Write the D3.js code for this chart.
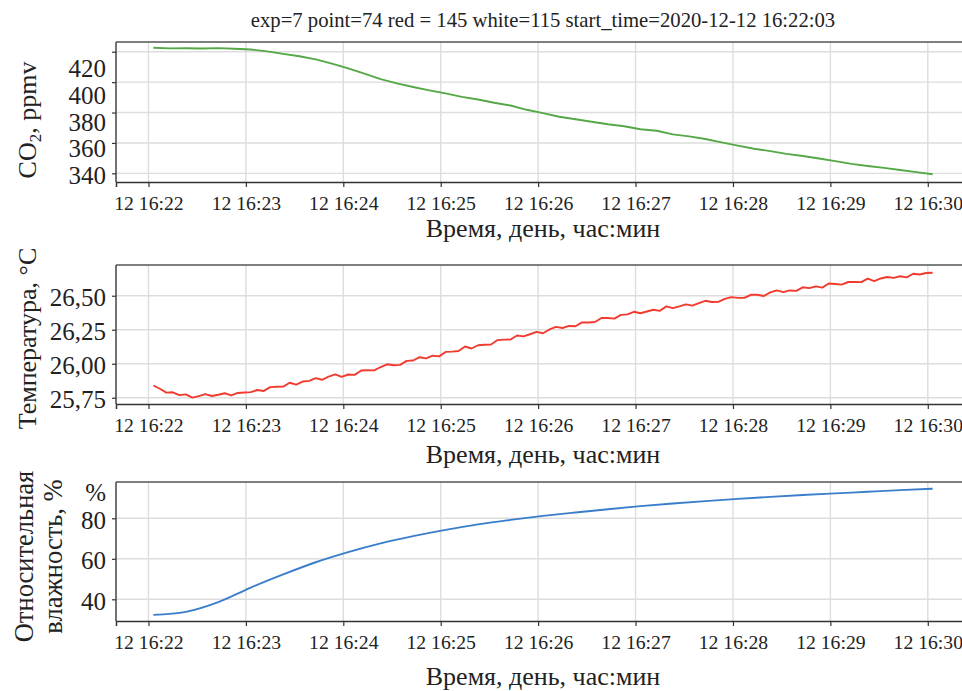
<!DOCTYPE html>
<html>
<head>
<meta charset="utf-8">
<script src="https://cdn.jsdelivr.net/npm/d3@7"></script>
<style>
  body { margin: 0; background: #fff; }
  text { font-family: "Liberation Serif", "Times New Roman", serif; fill: #222; }
</style>
</head>
<body>
<svg id="chart" width="962" height="691"></svg>
<script>
const titleText = "exp=7 point=74 red = 145 white=115 start_time=2020-12-12 16:22:03";
const startTime = "2020-12-12 16:22:03";

// CO2, ppmv, one reading every 10 s
const co2Step = 10;
const co2Values = [
  422.6, 422.2, 422.3, 422.1, 422.4, 422.0, 421.5, 420.2, 418.6, 417.0,
  415.0, 412.2, 409.0, 405.6, 402.0, 399.2, 396.8, 394.6, 392.6, 390.3,
  388.6, 386.4, 384.6, 381.8, 379.6, 377.2, 375.6, 373.9, 372.3, 371.0,
  369.0, 368.0, 365.6, 364.3, 362.6, 360.4, 358.2, 356.2, 354.6, 352.8,
  351.4, 349.8, 348.0, 346.2, 344.8, 343.6, 342.2, 340.8, 339.4
];

// temperature, C, one reading every 4 s
const tempStep = 4;
const tempValues = [
  25.840, 25.816, 25.788, 25.790, 25.769, 25.775, 25.751, 25.762, 25.776, 25.763,
  25.772, 25.783, 25.767, 25.785, 25.789, 25.791, 25.807, 25.800, 25.828, 25.831,
  25.832, 25.860, 25.847, 25.869, 25.874, 25.894, 25.882, 25.906, 25.922, 25.904,
  25.921, 25.918, 25.950, 25.952, 25.951, 25.976, 25.996, 25.989, 25.992, 26.021,
  26.024, 26.048, 26.039, 26.059, 26.054, 26.087, 26.089, 26.094, 26.127, 26.112,
  26.136, 26.140, 26.141, 26.174, 26.177, 26.178, 26.208, 26.201, 26.217, 26.234,
  26.224, 26.252, 26.271, 26.263, 26.278, 26.276, 26.304, 26.303, 26.307, 26.336,
  26.336, 26.332, 26.359, 26.363, 26.382, 26.371, 26.384, 26.397, 26.389, 26.422,
  26.409, 26.422, 26.437, 26.427, 26.446, 26.463, 26.454, 26.455, 26.477, 26.490,
  26.484, 26.484, 26.507, 26.507, 26.498, 26.525, 26.539, 26.526, 26.539, 26.536,
  26.562, 26.556, 26.569, 26.560, 26.590, 26.586, 26.582, 26.601, 26.601, 26.600,
  26.626, 26.608, 26.627, 26.638, 26.631, 26.643, 26.635, 26.662, 26.656, 26.667,
  26.669
];

// relative humidity, %, one reading every 20 s
const rhStep = 20;
const rhValues = [
  32.3, 33.8, 38.6, 45.8, 52.3, 58.3, 63.3, 67.6, 71.2, 74.3,
  77.0, 79.2, 81.2, 82.9, 84.5, 86.0, 87.3, 88.5, 89.6, 90.6,
  91.5, 92.3, 93.1, 93.9, 94.6
];

const co2Ticks = [340, 360, 380, 400, 420];
const tempTicks = [25.75, 26.00, 26.25, 26.50];
const rhTicks = [40, 60, 80];
const xAxisLabel = "Время, день, час:мин";

const svg = d3.select("#chart");
const getTime = d3.timeParse("%Y-%m-%d %H:%M:%S");
const t0 = getTime(startTime);
const ruLocale = d3.formatLocale({ decimal: ",", thousands: " ", grouping: [3], currency: ["", ""] });

const left = 116;
const x = d3.scaleTime()
    .domain([d3.timeSecond.offset(t0, -23), d3.timeSecond.offset(t0, 503)])
    .range([left, 970]);
const midX = (left + 970) / 2;

const panels = [
    { values: co2Values, step: co2Step, color: "#55a846", top: 42, bottom: 182,
      domain: [334.3, 426.4], ticks: co2Ticks, fmt: d3.format("d"),
      // the tick labels of this panel sit a bit tighter than the ticks
      labelShift: d3.scaleLinear().domain([340, 420]).range([2.4, 16.6]),
      xLabelGap: 55 },
    { values: tempValues, step: tempStep, color: "#f23a2f", top: 265, bottom: 404,
      domain: [25.704, 26.726], ticks: tempTicks, fmt: ruLocale.format(".2f"),
      labelShift: () => 1.5, xLabelGap: 59 },
    { values: rhValues, step: rhStep, color: "#3a7ecb", top: 482, bottom: 621,
      domain: [29.28, 97.93], ticks: rhTicks, fmt: d3.format("d"),
      labelShift: () => 2, xLabelGap: 64 }
];

panels.forEach(function (p) {
    const y = d3.scaleLinear().domain(p.domain).range([p.bottom, p.top]);
    const g = svg.append("g");
    const minutes = x.ticks(d3.timeMinute.every(1));

    // grid
    g.selectAll(".vgrid").data(minutes).enter().append("line")
        .attr("x1", d => x(d)).attr("x2", d => x(d))
        .attr("y1", p.top).attr("y2", p.bottom)
        .attr("stroke", "#dddddd").attr("stroke-width", 1.4);
    g.selectAll(".hgrid").data(p.ticks).enter().append("line")
        .attr("x1", left).attr("x2", 970)
        .attr("y1", d => y(d)).attr("y2", d => y(d))
        .attr("stroke", "#dddddd").attr("stroke-width", 1.4);

    // series
    const line = d3.line()
        .x((d, i) => x(d3.timeSecond.offset(t0, i * p.step)))
        .y(d => y(d))
        .curve(p.step > 10 ? d3.curveMonotoneX : d3.curveLinear);
    g.append("path").datum(p.values)
        .attr("d", line)
        .attr("fill", "none")
        .attr("stroke", p.color)
        .attr("stroke-width", 1.9)
        .attr("stroke-linejoin", "round");

    // spines
    g.append("line").attr("x1", left).attr("x2", 970).attr("y1", p.top).attr("y2", p.top)
        .attr("stroke", "#555").attr("stroke-width", 1.5);
    g.append("line").attr("x1", left).attr("x2", left).attr("y1", p.top).attr("y2", p.bottom)
        .attr("stroke", "#444").attr("stroke-width", 1.5);

    // x axis
    const xa = g.append("g").attr("transform", `translate(0,${p.bottom})`)
        .call(d3.axisBottom(x).ticks(d3.timeMinute.every(1))
            .tickFormat(d3.timeFormat("%d %H:%M")).tickSizeOuter(0).tickSize(5).tickPadding(9));
    xa.attr("font-family", null);
    xa.select(".domain").attr("stroke", "#333").attr("stroke-width", 1.5);
    xa.selectAll(".tick line").attr("stroke", "#333").attr("stroke-width", 1.2);
    xa.selectAll(".tick text").attr("font-size", 19.7).attr("fill", "#222");

    // y axis
    const ya = g.append("g").attr("transform", `translate(${left},0)`)
        .call(d3.axisLeft(y).tickValues(p.ticks).tickFormat(p.fmt).tickSizeOuter(0).tickSize(4).tickPadding(6));
    ya.attr("font-family", null);
    ya.select(".domain").remove();
    ya.selectAll(".tick line").attr("stroke", "#333").attr("stroke-width", 1.2);
    ya.selectAll(".tick text").attr("font-size", 25).attr("fill", "#222")
        .attr("transform", d => `translate(0,${p.labelShift(d)})`);

    g.append("text").attr("x", midX).attr("y", p.bottom + p.xLabelGap)
        .attr("text-anchor", "middle").attr("font-size", 26).text(xAxisLabel);
});

// title
svg.append("text").attr("x", midX).attr("y", 27).attr("text-anchor", "middle")
    .attr("font-size", 20.7).text(titleText);

// y labels
const co2Label = svg.append("text")
    .attr("transform", `translate(36,${(panels[0].top + panels[0].bottom) / 2 + 8}) rotate(-90)`)
    .attr("text-anchor", "middle").attr("font-size", 26);
co2Label.append("tspan").text("CO");
co2Label.append("tspan").attr("font-size", 17).attr("dy", 5).text("2");
co2Label.append("tspan").attr("dy", -5).text(", ppmv");

svg.append("text")
    .attr("transform", `translate(36,${(panels[1].top + panels[1].bottom) / 2 + 4}) rotate(-90)`)
    .attr("text-anchor", "middle").attr("font-size", 26).text("Температура, °C");

const rhMid = (panels[2].top + panels[2].bottom) / 2 + 5;
svg.append("text")
    .attr("transform", `translate(33,${rhMid}) rotate(-90)`)
    .attr("text-anchor", "middle").attr("font-size", 26.5).text("Относительная");
svg.append("text")
    .attr("transform", `translate(62,${rhMid}) rotate(-90)`)
    .attr("text-anchor", "middle").attr("font-size", 26.5).text("влажность, %");

// unit mark at the top of the humidity axis
svg.append("text").attr("x", 106).attr("y", 501).attr("text-anchor", "end")
    .attr("font-size", 25).text("%");
</script>
</body>
</html>
